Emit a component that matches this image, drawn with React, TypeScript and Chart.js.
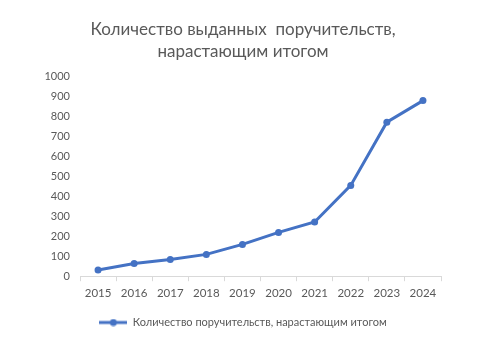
import React, { useEffect, useRef } from "react";
import { Chart, registerables } from "chart.js";

Chart.register(...registerables);

const years = ["2015", "2016", "2017", "2018", "2019", "2020", "2021", "2022", "2023", "2024"];
const cumulativeGuarantees = [31, 64, 84, 109, 159, 219, 271, 454, 770, 878];
const titleLines = ["Количество выданных  поручительств,", "нарастающим итогом"];
const seriesLabel = "Количество поручительств, нарастающим итогом";

const COLOR = "#4472C4";
const TEXT = "#595959";
const FONT = "Lato, 'Noto Sans', sans-serif";

function makeLegendIcon(): HTMLCanvasElement {
  const c = document.createElement("canvas");
  c.width = 28;
  c.height = 8;
  const ctx = c.getContext("2d")!;
  ctx.strokeStyle = COLOR;
  ctx.lineWidth = 3;
  ctx.beginPath();
  ctx.moveTo(0, 4);
  ctx.lineTo(28, 4);
  ctx.stroke();
  ctx.fillStyle = COLOR;
  ctx.beginPath();
  ctx.arc(14, 4, 3.5, 0, Math.PI * 2);
  ctx.fill();
  return c;
}

export default function App() {
  const ref = useRef<HTMLCanvasElement | null>(null);
  useEffect(() => {
    document.body.style.margin = "0";
    const icon = makeLegendIcon();
    const chart = new Chart(ref.current!, {
      type: "line",
      data: {
        labels: years,
        datasets: [
          {
            label: seriesLabel,
            data: cumulativeGuarantees,
            borderColor: COLOR,
            backgroundColor: COLOR,
            borderWidth: 3,
            pointRadius: 3.5,
            pointBackgroundColor: COLOR,
            pointBorderWidth: 0,
            pointStyle: "circle",
            tension: 0,
          },
        ],
      },
      options: {
        responsive: false,
        animation: false,
        layout: { padding: { left: 45, right: 61, top: 18, bottom: 10 } },
        plugins: {
          title: {
            display: true,
            text: titleLines,
            color: TEXT,
            font: { family: FONT, size: 17, weight: "normal", lineHeight: 1.3 },
            padding: { top: 0, bottom: 14 },
          },
          legend: {
            position: "bottom",
            labels: {
              usePointStyle: true,
              pointStyle: icon as any,
              pointStyleWidth: 28,
              color: TEXT,
              font: { family: FONT, size: 11 },
              padding: 12,
              generateLabels: () => [
                {
                  text: seriesLabel,
                  fillStyle: COLOR,
                  strokeStyle: COLOR,
                  pointStyle: icon,
                  lineWidth: 0,
                  hidden: false,
                  datasetIndex: 0,
                  fontColor: TEXT,
                } as any,
              ],
            },
          },
          tooltip: { enabled: false },
        },
        scales: {
          x: {
            offset: true,
            grid: {
              display: true,
              drawOnChartArea: false,
              drawTicks: true,
              tickLength: 5,
              color: "#D9D9D9",
              offset: true,
            },
            border: { display: true, color: "#D9D9D9", width: 1 },
            ticks: { color: TEXT, font: { family: FONT, size: 11.5 }, padding: 5 },
          },
          y: {
            min: 0,
            max: 1000,
            afterFit: (scale: any) => {
              scale.width = 35;
            },
            ticks: {
              stepSize: 100,
              color: TEXT,
              font: { family: FONT, size: 11 },
              padding: 10,
              callback: (v: any) => String(v),
            },
            grid: { display: false, drawTicks: false, tickLength: 0 },
            border: { display: false },
          },
        },
      },
    });
    return () => chart.destroy();
  }, []);
  return <canvas ref={ref} width={502} height={348} style={{ display: "block" }} />;
}
